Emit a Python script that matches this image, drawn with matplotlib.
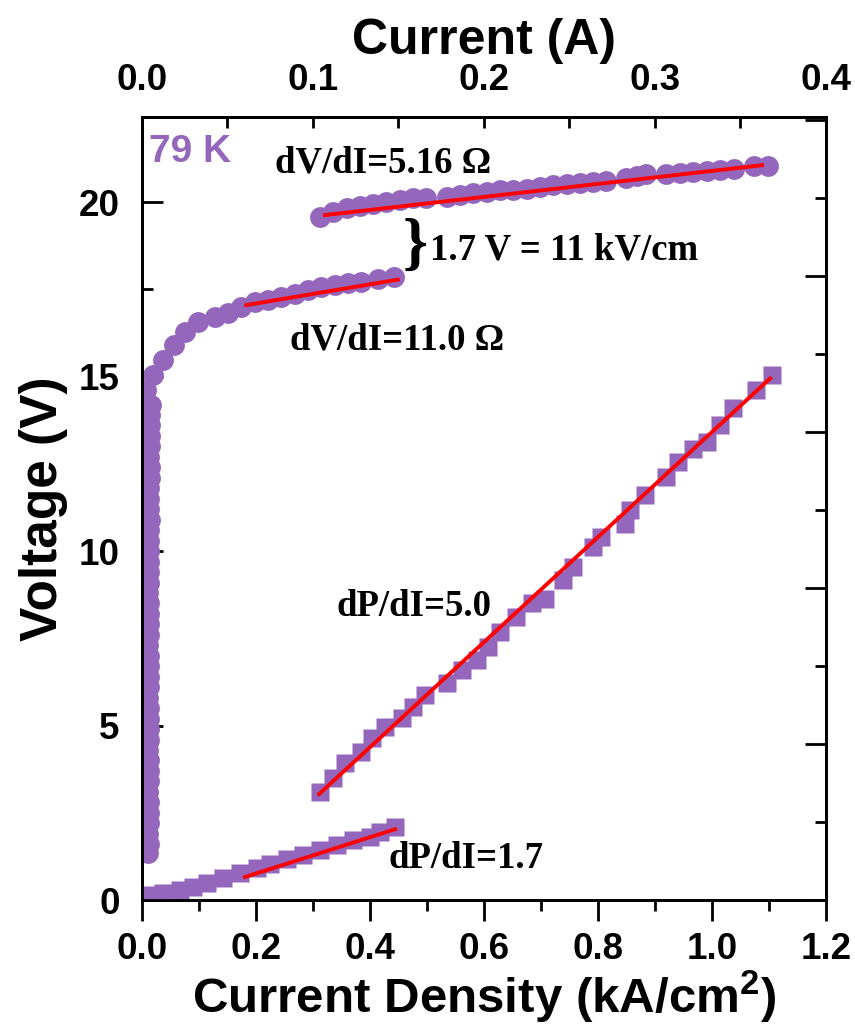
import matplotlib
matplotlib.use('Agg')
import matplotlib.pyplot as plt
from matplotlib.ticker import MultipleLocator, NullFormatter, FixedLocator

plt.rcParams['font.family'] = ['Liberation Sans', 'DejaVu Sans']
plt.rcParams['font.weight'] = 'bold'
plt.rcParams['mathtext.fontset'] = 'custom'
plt.rcParams['mathtext.rm'] = 'Liberation Sans:bold'
plt.rcParams['mathtext.default'] = 'rm'

# ---- data (current density in kA/cm^2, voltage in V, power in W) ----
# voltage, lower branch (threshold + low-field part)
vlow_j = [0.011, 0.012, 0.011, 0.012, 0.013, 0.012, 0.011, 0.012, 0.013, 0.012,
          0.011, 0.012, 0.012, 0.013, 0.012, 0.011, 0.012, 0.013, 0.012, 0.012,
          0.011, 0.012, 0.013, 0.012, 0.012, 0.011, 0.012, 0.013, 0.013, 0.012,
          0.012, 0.013, 0.014, 0.013, 0.012, 0.013, 0.014, 0.014, 0.013, 0.014,
          0.015, 0.014, 0.015, 0.016,
          0.008, 0.019, 0.037, 0.057, 0.075, 0.098, 0.128, 0.151, 0.174, 0.198,
          0.221, 0.244, 0.268, 0.291, 0.315, 0.338, 0.361, 0.385, 0.414, 0.443]
vlow_v = [1.35, 1.6, 1.9, 2.2, 2.5, 2.8, 3.1, 3.4, 3.7, 4.0,
          4.3, 4.6, 4.9, 5.2, 5.5, 5.8, 6.1, 6.4, 6.7, 7.0,
          7.3, 7.6, 7.9, 8.2, 8.5, 8.8, 9.1, 9.4, 9.7, 10.0,
          10.3, 10.6, 10.9, 11.2, 11.5, 11.8, 12.1, 12.4, 12.7, 13.0,
          13.3, 13.6, 13.9, 14.2,
          14.61, 15.04, 15.47, 15.90, 16.28, 16.57, 16.71, 16.81, 17.00, 17.14,
          17.19, 17.29, 17.38, 17.48, 17.57, 17.62, 17.67, 17.72, 17.81, 17.86]

# voltage, upper branch
vup_j = [0.312, 0.336, 0.359, 0.382, 0.406, 0.429, 0.453, 0.476, 0.499, 0.535,
         0.558, 0.581, 0.605, 0.628, 0.651, 0.675, 0.698, 0.722, 0.745, 0.768,
         0.792, 0.815, 0.850, 0.868, 0.885, 0.920, 0.944, 0.967, 0.991, 1.014,
         1.038, 1.073, 1.099]
vup_v = [19.58, 19.72, 19.82, 19.89, 19.96, 20.01, 20.06, 20.11, 20.13, 20.15,
         20.20, 20.25, 20.30, 20.34, 20.36, 20.39, 20.44, 20.49, 20.52, 20.54,
         20.58, 20.61, 20.68, 20.74, 20.82, 20.82, 20.84, 20.87, 20.90, 20.92,
         20.96, 21.03, 21.03]

# power, lower branch
plow_j = [0.003, 0.009, 0.037, 0.067, 0.089, 0.114, 0.142, 0.172, 0.202, 0.225,
          0.254, 0.282, 0.312, 0.342, 0.370, 0.400, 0.418, 0.444]
plow_p = [0.006, 0.016, 0.022, 0.032, 0.041, 0.055, 0.070, 0.086, 0.103, 0.115,
          0.131, 0.144, 0.160, 0.177, 0.192, 0.202, 0.218, 0.234]

# power, upper branch
pup_j = [0.312, 0.336, 0.356, 0.385, 0.403, 0.426, 0.456, 0.476, 0.496, 0.535,
         0.561, 0.587, 0.608, 0.628, 0.657, 0.684, 0.707, 0.739, 0.757, 0.792,
         0.806, 0.847, 0.856, 0.882, 0.920, 0.941, 0.967, 0.991, 1.014, 1.037,
         1.078, 1.105]
pup_p = [0.347, 0.390, 0.440, 0.475, 0.518, 0.556, 0.583, 0.620, 0.657, 0.695,
         0.737, 0.770, 0.812, 0.860, 0.908, 0.951, 0.966, 1.026, 1.068, 1.132,
         1.164, 1.207, 1.249, 1.298, 1.357, 1.405, 1.447, 1.469, 1.522, 1.576,
         1.634, 1.682]

# linear fits (end points)
fit_vlow_j, fit_vlow_v = [0.183, 0.449], [17.05, 17.78]
fit_vup_j, fit_vup_v = [0.321, 1.088], [19.63, 21.06]
fit_plow_j, fit_plow_p = [0.181, 0.444], [0.074, 0.227]
fit_pup_j, fit_pup_p = [0.311, 1.102], [0.340, 1.672]

# top axis ticks (current in A)
top_ticks = [0.0, 0.1, 0.2, 0.3, 0.4]
top_minor = [0.05, 0.15, 0.25, 0.35]

purple = '#9467BD'
red = '#FF0000'

fig = plt.figure(figsize=(8.55, 10.31), dpi=100)
ax = fig.add_axes([0.166, 0.127, 0.8, 0.7595])
axr = ax.twinx()

ax.plot(vlow_j, vlow_v, 'o', color=purple, ms=15, mec='none')
ax.plot(vup_j, vup_v, 'o', color=purple, ms=15, mec='none')
ax.plot(fit_vlow_j, fit_vlow_v, color=red, lw=2.8, zorder=5)
ax.plot(fit_vup_j, fit_vup_v, color=red, lw=2.8, zorder=5)

axr.plot(plow_j, plow_p, 's', color=purple, ms=13, mec='none')
axr.plot(pup_j, pup_p, 's', color=purple, ms=13, mec='none')
axr.plot(fit_plow_j, fit_plow_p, color=red, lw=2.8)
axr.plot(fit_pup_j, fit_pup_p, color=red, lw=2.8)

ax.set_xlim(0, 1.2)
ax.set_ylim(0, 22.44)
axr.set_ylim(0, 2.51)

ax.xaxis.set_major_locator(MultipleLocator(0.2))
ax.xaxis.set_minor_locator(MultipleLocator(0.1))
ax.yaxis.set_major_locator(MultipleLocator(5))
ax.yaxis.set_minor_locator(MultipleLocator(2.5))
ax.xaxis.set_major_formatter(lambda x, pos: f'{x:.1f}')
ax.tick_params(axis='x', which='both', direction='out', width=2, top=False)
ax.tick_params(axis='x', which='major', length=15, labelsize=26.5, pad=8)
ax.tick_params(axis='x', which='minor', length=8)
ax.tick_params(axis='y', which='both', direction='in', width=2, right=False)
ax.tick_params(axis='y', which='major', length=15, labelsize=26.5, pad=16)
ax.tick_params(axis='y', which='minor', length=8)

axr.yaxis.set_major_locator(MultipleLocator(0.5))
axr.yaxis.set_minor_locator(MultipleLocator(0.25))
axr.yaxis.set_major_formatter(NullFormatter())
axr.tick_params(axis='y', which='both', direction='in', width=2)
axr.tick_params(axis='y', which='major', length=15)
axr.tick_params(axis='y', which='minor', length=8)

for a in (ax, axr):
    for s in a.spines.values():
        s.set_linewidth(2)

# top axis: current = current density * device area
top = ax.secondary_xaxis('top', functions=(lambda j: j / 3.0, lambda i: i * 3.0))
top.xaxis.set_major_locator(FixedLocator(top_ticks))
top.xaxis.set_minor_locator(FixedLocator(top_minor))
top.xaxis.set_major_formatter(lambda x, pos: f'{x:.1f}')
top.tick_params(axis='x', which='both', direction='in', width=2, length=8)
top.tick_params(axis='x', which='major', labelsize=26.5, pad=14)
top.spines['top'].set_linewidth(2)
top.set_xlabel('Current (A)', fontsize=36, fontweight='bold', labelpad=6)

ax.set_xlabel('Current Density (kA/cm$^{2}$)', fontsize=35.5, fontweight='bold', labelpad=1)
ax.set_ylabel('Voltage (V)', fontsize=37, fontweight='bold', labelpad=8)

serif = dict(family=['Liberation Serif', 'DejaVu Serif'], fontweight='bold', fontsize=26.5)
ax.text(0.012, 21.43, '79 K', color=purple, fontsize=28, fontweight='bold',
        ha='left', va='center')
ax.text(0.233, 21.12, 'dV/dI=5.16 \u03a9', ha='left', va='center', **serif)
ax.text(0.26, 16.05, 'dV/dI=11.0 \u03a9', ha='left', va='center', **serif)
ax.text(0.342, 8.40, 'dP/dI=5.0', ha='left', va='center', **serif)
ax.text(0.432, 1.20, 'dP/dI=1.7', ha='left', va='center', **serif)
ax.text(0.48, 18.72, '}', ha='center', va='center',
        family=['Liberation Serif', 'DejaVu Serif'], fontweight='bold', fontsize=46)
ax.text(0.505, 18.62, '1.7 V = 11 kV/cm', ha='left', va='center', **serif)

fig.savefig('out.png', dpi=100)
